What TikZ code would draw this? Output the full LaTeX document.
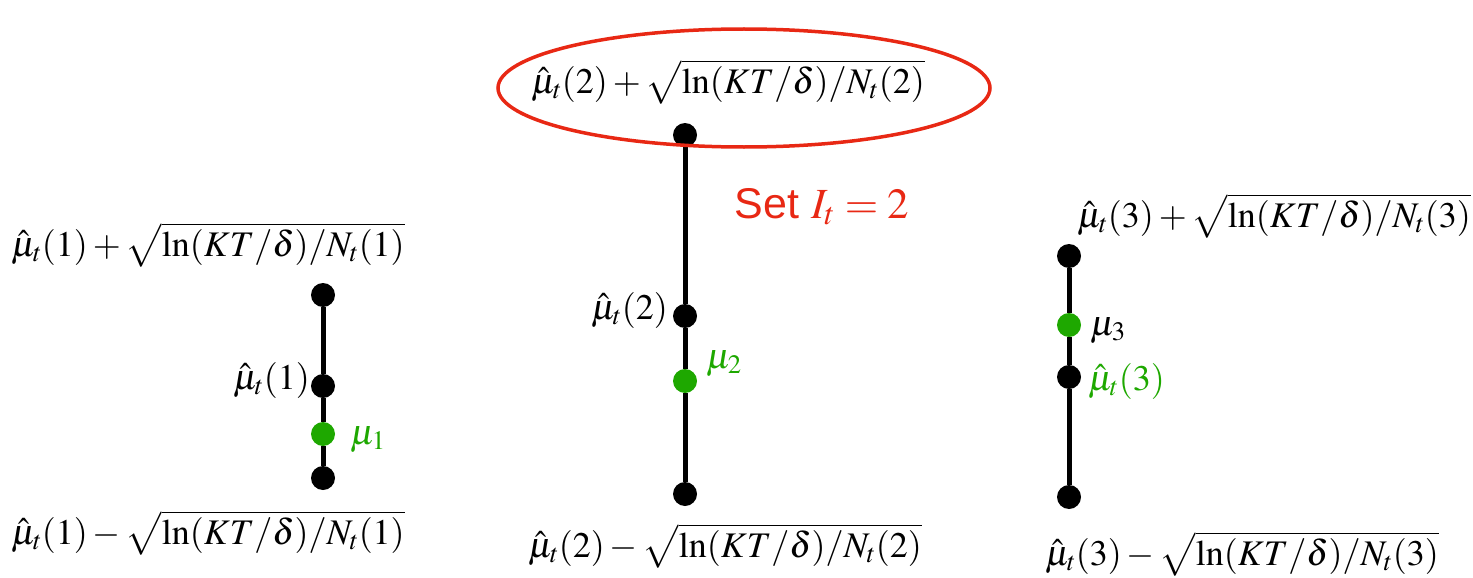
\documentclass[tikz,border=0pt]{standalone}
\usepackage{mathptmx}
\usepackage{fontspec}
\setsansfont{Liberation Sans}
\definecolor{dotgreen}{RGB}{30,168,0}
\definecolor{ellred}{RGB}{232,40,20}
\begin{document}
\begin{tikzpicture}[x=1pt,y=-1pt,
  lbl/.style={inner sep=0pt,font=\fontsize{36}{42}\selectfont},
  dotb/.style={circle,fill=black,minimum size=24pt,inner sep=0pt},
  dotg/.style={circle,fill=dotgreen,minimum size=24pt,inner sep=0pt},
  bar/.style={line width=5pt}]
\useasboundingbox (0,0) rectangle (1473,578);
% column 1
\node[dotb] (t1) at (323,295) {};
\node[dotb] (m1) at (323,386) {};
\node[dotg] (g1) at (323,434) {};
\node[dotb] (b1) at (323,478) {};
\draw[bar] (t1) -- (m1) -- (g1) -- (b1);
\node[lbl,anchor=base] (lt1) at (208,256) {$\hat\mu_t(1)+\sqrt{\ln(KT/\delta)/N_t(1)}$};
\node[lbl,anchor=base] (lb1) at (208,544) {$\hat\mu_t(1)-\sqrt{\ln(KT/\delta)/N_t(1)}$};
\node[lbl,anchor=base east] (lm1) at (310,389) {$\hat\mu_t(1)$};
\node[lbl,anchor=base west,text=dotgreen] (lg1) at (350,444) {$\mu_1$};
% column 2
\node[dotb] (t2) at (685,135) {};
\node[dotb] (m2) at (685,316) {};
\node[dotg] (g2) at (685,381) {};
\node[dotb] (b2) at (685,494) {};
\draw[bar] (t2) -- (m2) -- (g2) -- (b2);
\node[lbl,anchor=base] (lt2) at (728,93) {$\hat\mu_t(2)+\sqrt{\ln(KT/\delta)/N_t(2)}$};
\node[lbl,anchor=base] (lb2) at (725,557) {$\hat\mu_t(2)-\sqrt{\ln(KT/\delta)/N_t(2)}$};
\node[lbl,anchor=base east] (lm2) at (668,319) {$\hat\mu_t(2)$};
\node[lbl,anchor=base west,text=dotgreen] (lg2) at (706,368) {$\mu_2$};
\draw[ellred,line width=3.5pt] (744,88) ellipse [x radius=246, y radius=59];
\node[inner sep=0pt,font=\fontsize{43}{50}\selectfont,anchor=base,text=ellred] (set) at (822,218) {\sffamily Set $I_t=2$};
% column 3
\node[dotb] (t3) at (1069,256) {};
\node[dotg] (g3) at (1069,325) {};
\node[dotb] (m3) at (1069,377) {};
\node[dotb] (b3) at (1069,497) {};
\draw[bar] (t3) -- (g3) -- (m3) -- (b3);
\node[lbl,anchor=base] (lt3) at (1274,227) {$\hat\mu_t(3)+\sqrt{\ln(KT/\delta)/N_t(3)}$};
\node[lbl,anchor=base] (lb3) at (1242,565) {$\hat\mu_t(3)-\sqrt{\ln(KT/\delta)/N_t(3)}$};
\node[lbl,anchor=base west] (lg3) at (1090,335) {$\mu_3$};
\node[lbl,anchor=base west,text=dotgreen] (lm3) at (1088,390) {$\hat\mu_t(3)$};
\end{tikzpicture}
\end{document}
